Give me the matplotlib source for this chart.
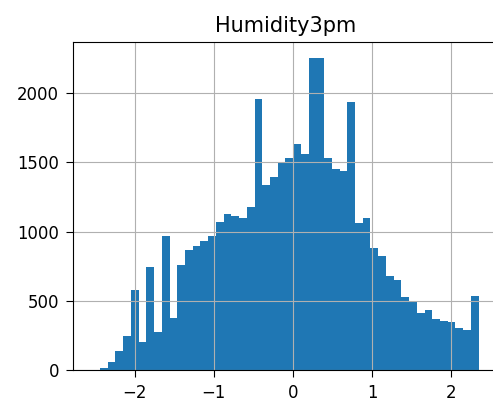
import matplotlib
matplotlib.use("Agg")
import matplotlib.pyplot as plt
import numpy as np

title = "Humidity3pm"

# histogram range of the standardised values and the 50 bin counts
x_min, x_max = -2.536, 2.345
counts = [3, 14, 60, 140, 248, 577, 200, 745, 276, 965,
          374, 757, 866, 895, 933, 967, 1068, 1125, 1110, 1100,
          1178, 1960, 1335, 1395, 1496, 1532, 1635, 1558, 2256, 2256,
          1530, 1450, 1437, 1936, 1062, 1100, 883, 823, 678, 654,
          529, 497, 409, 433, 366, 358, 350, 302, 291, 532]

edges = np.linspace(x_min, x_max, len(counts) + 1)
centers = (edges[:-1] + edges[1:]) / 2

fig = plt.figure(figsize=(4.93, 4.01), dpi=100)
ax = fig.add_axes([0.148, 0.077, 0.862, 0.818])
ax.hist(centers, bins=edges, weights=counts, color="#1f77b4")
ax.grid(True)
ax.set_yticks([0, 500, 1000, 1500, 2000])
ax.tick_params(labelsize=11.9, length=5, pad=5)
ax.set_title(title, fontsize=15, pad=7)

fig.savefig("out.png", dpi=100)
